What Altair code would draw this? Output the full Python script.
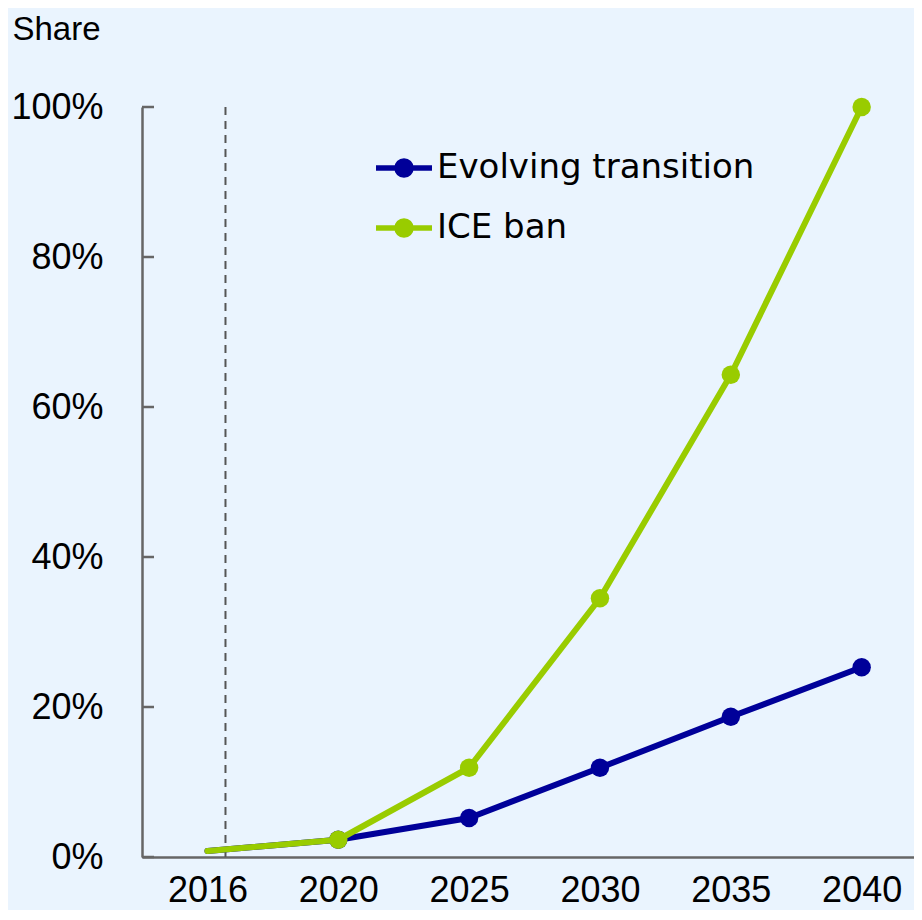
import altair as alt
import pandas as pd

years = ["2016", "2020", "2025", "2030", "2035", "2040"]
evolving = [0.8, 2.3, 5.2, 11.9, 18.7, 25.3]
ice_ban = [0.8, 2.3, 11.9, 34.5, 64.3, 100.0]
series_names = ["Evolving transition", "ICE ban"]
series_colors = ["#000099", "#99CC00"]
y_ticks = [0, 20, 40, 60, 80, 100]
marker_years = ["2020", "2025", "2030", "2035", "2040"]
today_pos = 0.138  # dashed marker between 2016 and 2020

rows = []
for i, y in enumerate(years):
    rows.append({"idx": i, "year": y, "series": series_names[0], "value": evolving[i]})
    rows.append({"idx": i, "year": y, "series": series_names[1], "value": ice_ban[i]})
df = pd.DataFrame(rows)
df["marker"] = df["year"].isin(marker_years)

FONT = "Liberation Sans"
FS = 36
LEG_FONT = "DejaVu Sans"
LEG_FS = 34

label_map = "[" + ",".join(f"'{y}'" for y in years) + "]"

x_enc = alt.X(
    "idx:Q",
    scale=alt.Scale(domain=[-0.5, 5.4], nice=False, zero=False),
    axis=alt.Axis(
        values=list(range(len(years))),
        labelExpr=f"{label_map}[datum.value]",
        title=None, grid=False, ticks=False,
        labelPadding=44, labelBaseline="alphabetic",
        labelFontSize=FS, labelFont=FONT, labelColor="#000000",
        domainColor="#666666", domainWidth=2.5,
    ),
)
y_enc = alt.Y(
    "value:Q",
    scale=alt.Scale(domain=[0, 100], nice=False),
    axis=alt.Axis(
        values=y_ticks,
        labelExpr="datum.value + '%'",
        title="Share", titleAngle=0, titleAlign="left", titleBaseline="alphabetic",
        titleX=-130, titleY=-68, titleFontSize=33, titleFont=FONT,
        titleFontWeight="normal", titleColor="#000000",
        grid=False, ticks=False, labelPadding=39,
        labelFontSize=FS, labelFont=FONT, labelColor="#000000",
        domainColor="#666666", domainWidth=2.5,
    ),
)

sym_path = "M-1,0H1M-0.25,0A0.25,0.25,0,1,1,0.25,0A0.25,0.25,0,1,1,-0.25,0"
legend = alt.Legend(
    title=None, orient="none", legendX=231, legendY=30,
    symbolType=sym_path, symbolSize=3136, symbolStrokeWidth=5.5,
    labelFontSize=LEG_FS, labelFont=LEG_FONT, labelColor="#000000", labelLimit=600,
    labelOffset=2, rowPadding=11, padding=0,
)
scale = alt.Scale(domain=series_names, range=series_colors)

base = alt.Chart(df)

layers = []
dash = alt.Chart(pd.DataFrame({"idx": [today_pos], "lo": [0], "hi": [100]})).mark_rule(
    color="#555555", strokeWidth=2, strokeDash=[8, 6]
).encode(x="idx:Q", y="lo:Q", y2="hi:Q")
layers.append(dash)

ticks = alt.Chart(pd.DataFrame({"t": y_ticks})).mark_rule(
    color="#666666", strokeWidth=2.5
).encode(y="t:Q", x=alt.value(0), x2=alt.value(12))
layers.append(ticks)

for name in series_names:
    sub = base.transform_filter(alt.datum.series == name)
    line = sub.mark_line(strokeWidth=6, strokeCap="round", strokeJoin="round").encode(
        x=x_enc, y=y_enc,
        stroke=alt.Stroke("series:N", scale=scale, legend=legend),
    )
    pts = sub.transform_filter(alt.datum.marker).mark_point(
        filled=True, size=340, opacity=1
    ).encode(
        x=x_enc, y=y_enc,
        fill=alt.Fill("series:N", scale=scale, legend=legend),
    )
    layers += [line, pts]

chart = alt.layer(*layers).properties(
    width=772, height=750,
    background="#EAF4FE",
    padding={"left": 134, "top": 99, "right": 0, "bottom": 53},
    autosize=alt.AutoSizeParams(type="none"),
).configure_view(stroke=None)

chart.save("out.html", embed_options={"renderer": "svg", "actions": False})
